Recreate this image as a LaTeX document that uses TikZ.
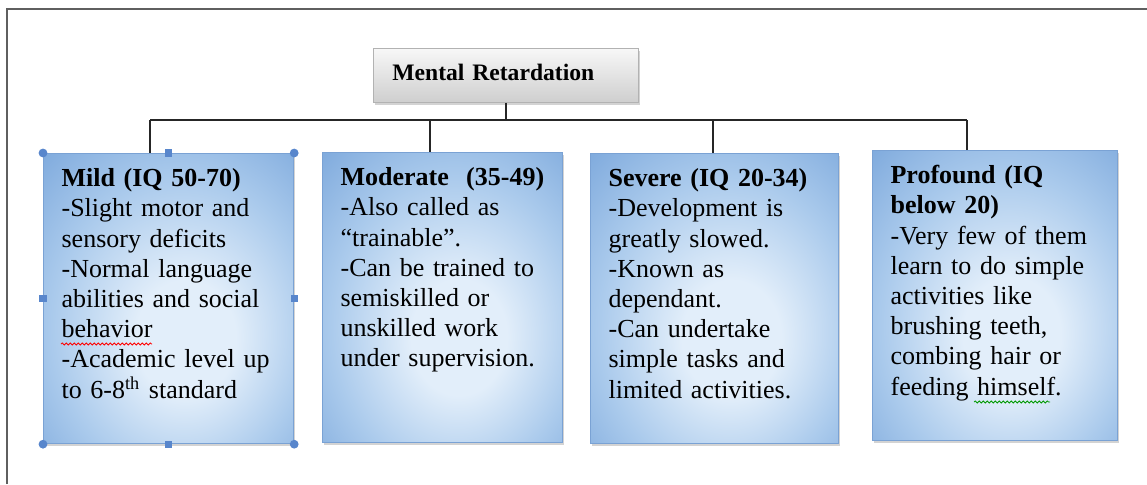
\documentclass[tikz,border=0pt]{standalone}
\usepackage{fontspec}
\setmainfont{Liberation Serif}
\usetikzlibrary{shadows,decorations.pathmorphing}
\definecolor{boxedge}{RGB}{116,162,217}
\definecolor{boxsoft}{RGB}{170,202,236}
\definecolor{boxmid}{RGB}{226,238,250}
\definecolor{boxline}{RGB}{122,162,212}
\definecolor{handle}{RGB}{88,134,204}
\definecolor{framegray}{RGB}{95,95,95}
\pgfdeclareradialshading{boxglow}{\pgfpoint{4bp}{-8bp}}{color(0bp)=(boxmid); color(10bp)=(boxmid); color(26bp)=(boxsoft); color(43bp)=(boxedge); color(70bp)=(boxedge)}
\begin{document}
\begin{tikzpicture}[x=0.5pt,y=-0.5pt,
    catbox/.style={draw=boxline,line width=0.6pt,shading=boxglow,
      drop shadow={shadow xshift=0.8pt,shadow yshift=-1.2pt,opacity=0.35},
      anchor=north west,inner xsep=9pt,inner ysep=0pt,align=left,
      text height=16.5pt,text depth=128.5pt,font=\fontsize{13}{15.1}\selectfont},
    rootbox/.style={draw=gray!60,top color=gray!6,bottom color=gray!38,
      drop shadow={shadow xshift=0.8pt,shadow yshift=-1.2pt,opacity=0.35},
      anchor=north west,inner xsep=9.5pt,inner ysep=0pt,minimum height=27pt,align=left,
      text width=113.5pt,text height=8pt,text depth=2.5pt,font=\fontsize{11.8}{13}\selectfont\bfseries},
    link/.style={line width=1.3pt,black!85},
    squiggle/.style={line width=0.4pt,decorate,decoration={snake,amplitude=0.5pt,segment length=2pt}}]
  \useasboundingbox (0,0) rectangle (1147,484);
  \draw[framegray,line width=1pt] (7,484) -- (7,9) -- (1147,9);
  \coordinate (bus) at (504,120);
  \coordinate (d1) at (150,0);
  \coordinate (d2) at (430,0);
  \coordinate (d3) at (713,0);
  \coordinate (d4) at (967,0);
  \node[rootbox] (root) at (373,48) {Mental Retardation};
  \node[catbox,text width=107pt] (m1) at (43,153) {\textbf{Mild (IQ 50-70)}\\-Slight motor and\\sensory deficits\\-Normal language\\abilities and social\\behavior\\-Academic level up\\to 6-8\textsuperscript{th} standard};
  \node[catbox,text width=102pt] (m2) at (322,152) {\textbf{Moderate\ \ (35-49)}\\-Also called as\\“trainable”.\\-Can be trained to\\semiskilled or\\unskilled work\\under supervision.};
  \node[catbox,text width=106pt] (m3) at (590,153) {\textbf{Severe (IQ 20-34)}\\-Development is\\greatly slowed.\\-Known as\\dependant.\\-Can undertake\\simple tasks and\\limited activities.};
  \node[catbox,text width=104.5pt] (m4) at (872,150) {\textbf{Profound (IQ}\\\textbf{below 20)}\\-Very few of them\\learn to do simple\\activities like\\brushing teeth,\\combing hair or\\feeding himself.};
  \draw[squiggle,red] (61,344) -- (152,344);
  \draw[squiggle,green!60!black] (974,402) -- (1050,402);
  \draw[link] (root.south) -- (root.south |- bus);
  \draw[link] (d1 |- bus) -- (d4 |- bus);
  \foreach \i in {1,...,4}
    \draw[link] (d\i |- bus) -- (d\i |- m\i.north);
  \foreach \a in {north west,north east,south west,south east}
    \fill[handle] (m1.\a) circle (2.2pt);
  \foreach \a in {north,south,west,east}
    \fill[handle] ([xshift=-1.8pt,yshift=-1.8pt]m1.\a) rectangle ++(3.6pt,3.6pt);
\end{tikzpicture}
\end{document}
